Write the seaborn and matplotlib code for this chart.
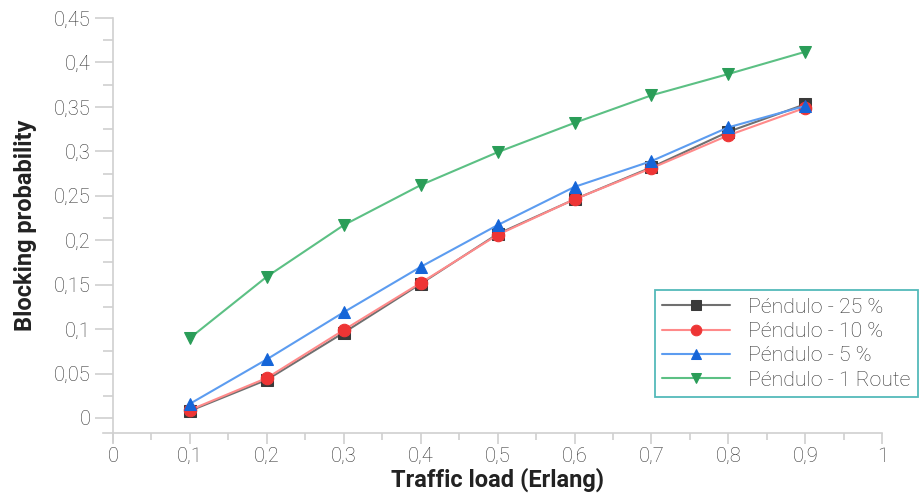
import numpy as np
import pandas as pd
import seaborn as sns
import matplotlib
matplotlib.use("Agg")
import matplotlib.pyplot as plt
from matplotlib.ticker import FuncFormatter, MultipleLocator

load = [0.1, 0.2, 0.3, 0.4, 0.5, 0.6, 0.7, 0.8, 0.9]
p25 = [0.008, 0.043, 0.096, 0.151, 0.207, 0.246, 0.282, 0.322, 0.353]
p10 = [0.009, 0.045, 0.099, 0.152, 0.206, 0.246, 0.281, 0.318, 0.349]
p5 = [0.016, 0.066, 0.119, 0.170, 0.217, 0.260, 0.289, 0.327, 0.351]
p1route = [0.090, 0.159, 0.217, 0.262, 0.299, 0.332, 0.363, 0.387, 0.412]

names = ["Péndulo - 25 %", "Péndulo - 10 %", "Péndulo - 5 %", "Péndulo - 1 Route"]
series = [p25, p10, p5, p1route]
line_colors = ["#707070", "#ff8a8a", "#5c9cf0", "#5cc084"]
mark_colors = ["#3a3a3a", "#ee3535", "#1565d8", "#2a9d58"]
markers = ["s", "o", "^", "v"]

sns.set_style("white")
plt.rcParams['font.family'] = ['Roboto', 'DejaVu Sans']

fig = plt.figure(figsize=(9.19, 4.94), dpi=100)
ax = fig.add_axes([0.123, 0.1235, 0.837, 0.8401])

for name, vals, lc, mc, mk in zip(names, series, line_colors, mark_colors, markers):
    df = pd.DataFrame({"load": load, "p": vals})
    sns.lineplot(data=df, x="load", y="p", ax=ax, color=lc, linewidth=1.5,
                 marker=mk, markersize=9, markerfacecolor=mc, markeredgecolor=mc,
                 label=name)

ax.set_xlim(0, 1)
ax.set_ylim(-0.0169, 0.45)
ax.xaxis.set_major_locator(MultipleLocator(0.1))
ax.xaxis.set_minor_locator(MultipleLocator(0.05))
ax.yaxis.set_major_locator(MultipleLocator(0.05))
ax.yaxis.set_minor_locator(MultipleLocator(0.025))

def comma(v, pos):
    s = f"{v:.2f}".rstrip("0").rstrip(".")
    return s.replace(".", ",")

ax.xaxis.set_major_formatter(FuncFormatter(comma))
ax.yaxis.set_major_formatter(FuncFormatter(comma))

for s in ["top", "right"]:
    ax.spines[s].set_visible(False)
for s in ["left", "bottom"]:
    ax.spines[s].set_color("#d0d0d0")
    ax.spines[s].set_linewidth(1.2)
ax.spines["left"].set_bounds(-0.027, 0.45)
ax.spines["bottom"].set_bounds(-0.013, 1)

ax.tick_params(which="both", width=1.2, color="#d0d0d0",
               labelsize=14.5, labelcolor="#333333", direction="out")
ax.tick_params(axis="x", which="major", length=8, pad=2)
ax.tick_params(axis="x", which="minor", length=5)
ax.tick_params(axis="y", which="major", length=13, pad=3)
ax.tick_params(axis="y", which="minor", length=7)
ax.xaxis.set_ticks_position("bottom")
ax.yaxis.set_ticks_position("left")
for lab in ax.get_xticklabels() + ax.get_yticklabels():
    lab.set_fontweight("light")

ax.set_xlabel("Traffic load (Erlang)", fontsize=17, fontweight="bold", color="#222222", va="center")
ax.set_ylabel("Blocking probability", fontsize=17, fontweight="bold", color="#222222", va="center")
ax.xaxis.set_label_coords(0.5, -0.113)
ax.yaxis.set_label_coords(-0.1144, 0.5)

leg = ax.legend(loc="lower left", bbox_to_anchor=(0.7127, 0.196, 0.2862, 0.2368),
                bbox_transform=fig.transFigure, mode="expand", borderaxespad=0,
                fontsize=15.3, frameon=True, fancybox=False, borderpad=0.35,
                labelspacing=0.25, handlelength=3.2, handletextpad=0.85,
                markerscale=0.85)
leg.get_frame().set_edgecolor("#2aa8a8")
leg.get_frame().set_linewidth(1.3)
for t in leg.get_texts():
    t.set_color("#333333")
    t.set_fontweight("light")

fig.savefig("out.png", dpi=100)
